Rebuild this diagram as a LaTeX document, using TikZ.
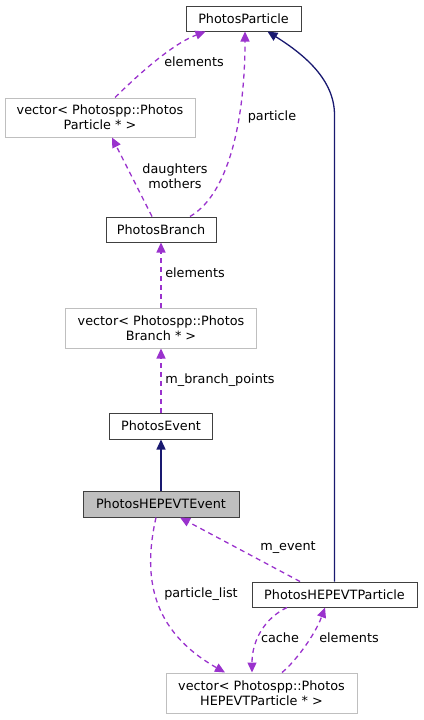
\documentclass[tikz,border=0pt]{standalone}
\usepackage{fontspec}
\setmainfont{DejaVu Sans}
\usetikzlibrary{arrows.meta}
\definecolor{edgepurple}{HTML}{9A32CD}
\definecolor{edgenavy}{HTML}{191970}
\definecolor{boxline}{HTML}{404040}
\definecolor{greyline}{HTML}{BFBFBF}
\definecolor{hlfill}{HTML}{BFBFBF}
\begin{document}
\begin{tikzpicture}[x=1pt,y=-1pt,
  every node/.style={font=\fontsize{12.8}{15}\selectfont, inner sep=0pt},
  cls/.style={draw=boxline, line width=1pt, rectangle, align=center},
  ext/.style={draw=greyline, line width=1pt, rectangle, align=center, fill=white},
  lbl/.style={align=center},
  usage/.style={draw=edgepurple, line width=1.3pt, dash pattern=on 5pt off 4pt,
    -{Triangle[length=10pt,width=9pt,fill=edgepurple]}},
  inherit/.style={draw=edgenavy, line width=1.3pt,
    -{Triangle[length=10pt,width=9pt,fill=edgenavy]}}]
\useasboundingbox (0,0) rectangle (423,720);
% nodes
\node[cls, minimum width=115pt, minimum height=25pt] (PP) at (243.5,18.5) {PhotosParticle};
\node[ext, minimum width=190pt, minimum height=39pt] (VP) at (100,117.5) {vector< Photospp::Photos\\Particle * >};
\node[cls, minimum width=110pt, minimum height=25pt] (PB) at (161,229.5) {PhotosBranch};
\node[ext, minimum width=191pt, minimum height=40pt] (VB) at (161,328) {vector< Photospp::Photos\\Branch * >};
\node[cls, minimum width=103pt, minimum height=26pt] (PE) at (161,426) {PhotosEvent};
\node[cls, fill=hlfill, minimum width=156pt, minimum height=26pt] (HE) at (161,504) {PhotosHEPEVTEvent};
\node[cls, minimum width=165pt, minimum height=25pt] (HP) at (334.5,594.5) {PhotosHEPEVTParticle};
\node[ext, minimum width=191pt, minimum height=40pt] (VH) at (261.5,693) {vector< Photospp::Photos\\HEPEVTParticle * >};
\coordinate (bend) at (334.5,115);
% inheritance
\draw[inherit] (HE.north) -- (PE.south);
\draw[inherit] (HP.north -| bend) -- (bend)
  .. controls (334.5,80) and (305,55) .. ([xshift=24pt]PP.south);
% usage edges
\draw[usage] ([xshift=15pt]VP.north) .. controls (135,78) and (170,45) .. ([xshift=-38pt]PP.south);
\node[lbl] (l1) at (194,62) {elements};
\draw[usage] ([xshift=29pt]PB.north) .. controls (232,192) and (245,110) .. ([xshift=1.5pt]PP.south);
\node[lbl] (l2) at (272,117) {particle};
\draw[usage] ([xshift=-9pt]PB.north) -- ([xshift=12pt]VP.south);
\node[lbl] (l3) at (175,176) {daughters\\mothers};
\draw[usage] (VB.north) -- (PB.south);
\node[lbl] (l4) at (195,273) {elements};
\draw[usage] (PE.north) -- (VB.south);
\node[lbl] (l5) at (220,380) {m\_branch\_points};
\draw[usage] ([xshift=-34.5pt]HP.north) -- ([xshift=19pt]HE.south);
\node[lbl] (l6) at (288,548) {m\_event};
\draw[usage] ([xshift=-5pt]HE.south) .. controls (143,575) and (150,630) .. ([xshift=-36.5pt]VH.north);
\node[lbl] (l7) at (201,594) {particle\_list};
\draw[usage] ([xshift=-47.5pt]HP.south) .. controls (265,618) and (252,640) .. ([xshift=-9.5pt]VH.north);
\node[lbl] (l8) at (280,638) {cache};
\draw[usage] ([xshift=20.5pt]VH.north) .. controls (295,662) and (315,635) .. ([xshift=-9.5pt]HP.south);
\node[lbl] (l9) at (349,638) {elements};
\end{tikzpicture}
\end{document}
